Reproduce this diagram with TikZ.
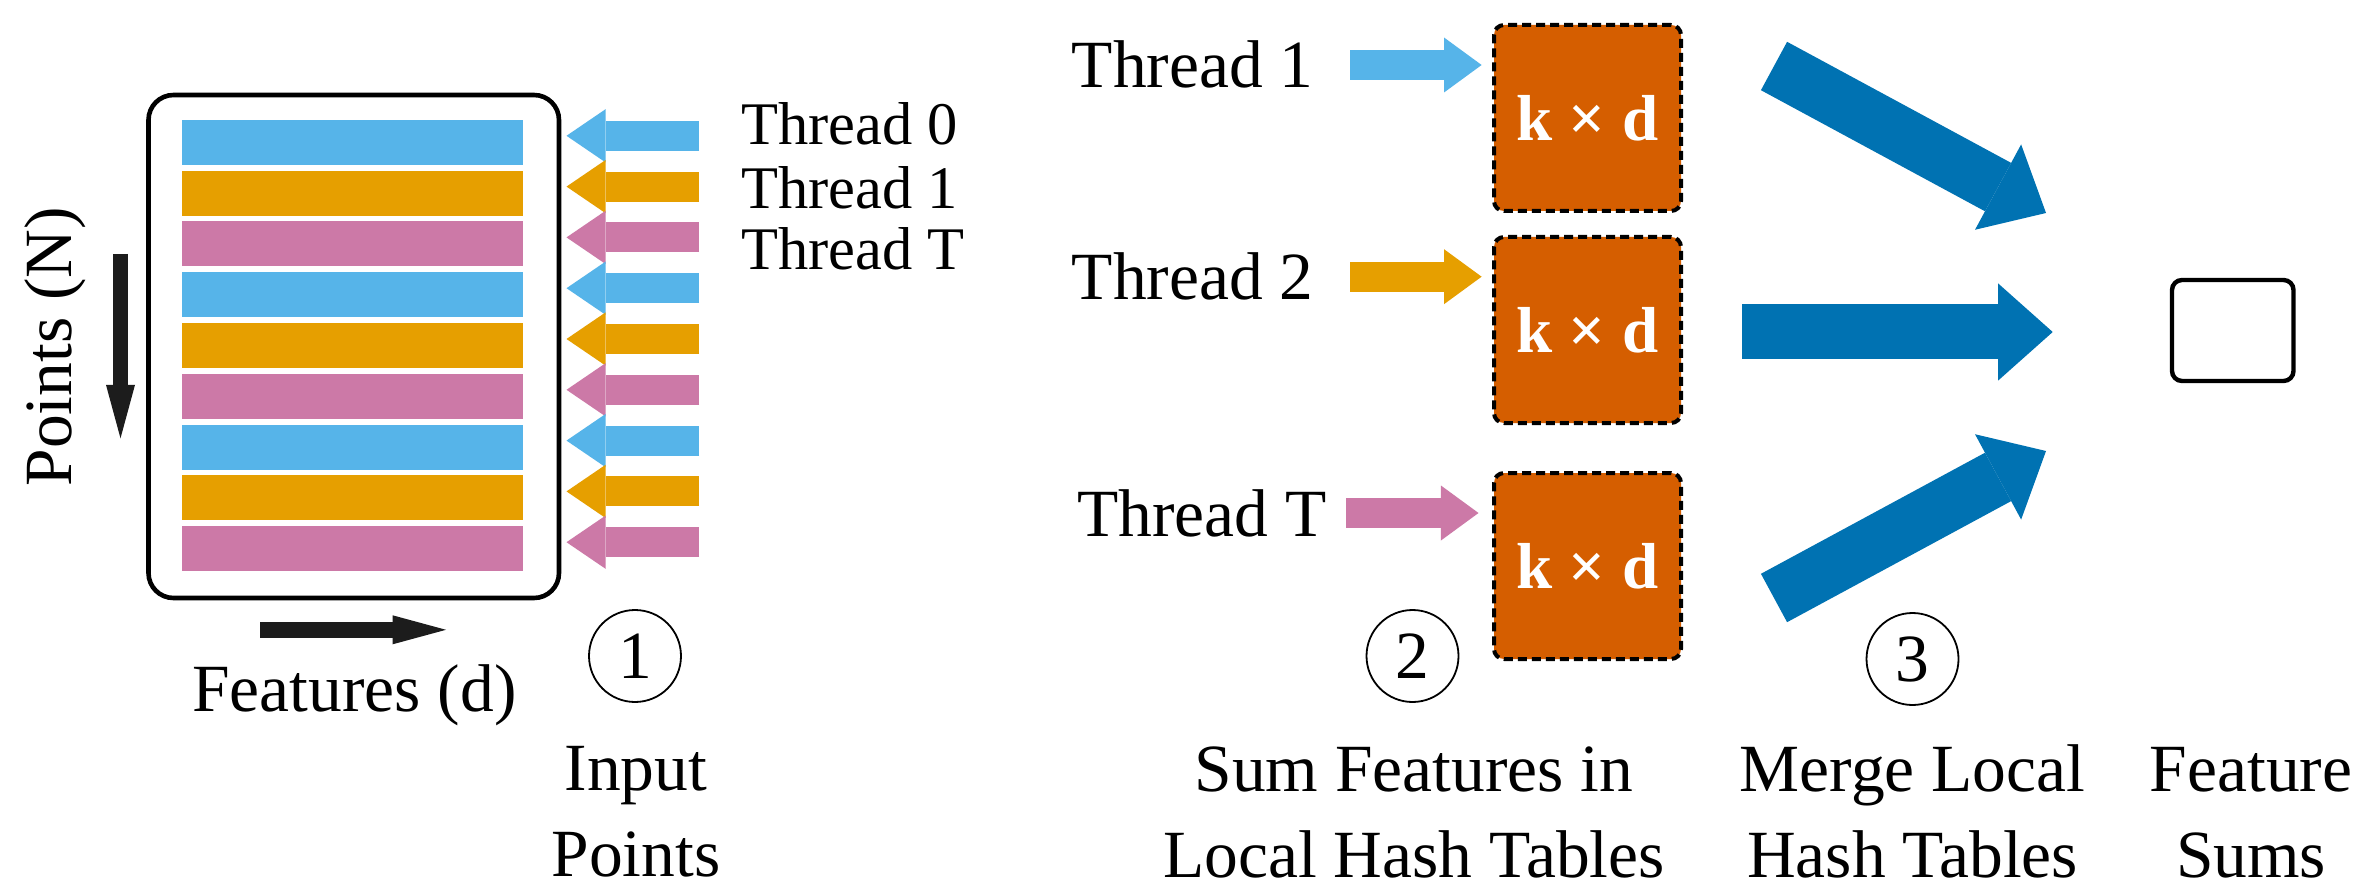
\documentclass[tikz,border=0pt]{standalone}
\usepackage{fontspec}
\setmainfont{Liberation Serif}
\usetikzlibrary{arrows.meta}
\definecolor{cblue}{HTML}{56B4E9}
\definecolor{corange}{HTML}{E69F00}
\definecolor{cpink}{HTML}{CC79A7}
\definecolor{cverm}{HTML}{D55E00}
\definecolor{cdblue}{HTML}{0072B2}
\definecolor{cblack}{HTML}{1C1C1C}
\begin{document}
\begin{tikzpicture}[x=0.5pt,y=-0.5pt,
  lbl/.style={inner sep=0pt, font=\fontsize{33.75}{43}\selectfont},
  smlbl/.style={inner sep=0pt, font=\fontsize{30.25}{36}\selectfont},
  bar/.style={fill=#1, draw=none, minimum width=170.5pt, minimum height=22.5pt, inner sep=0pt},
  hashbox/.style={fill=cverm, draw=black, line width=2pt, dash pattern=on 4.5pt off 2.5pt,
     rounded corners=5pt, minimum width=93.5pt, minimum height=93pt, inner sep=0pt,
     text=white, font=\fontsize{32.5}{36}\selectfont\bfseries},
  stepnum/.style={circle, draw=black, line width=0.9pt, minimum size=46pt, inner sep=0pt,
     font=\fontsize{33.75}{40}\selectfont},
  inarrow/.style={draw=#1, line width=15pt, -{Triangle[length=19.6pt,width=26.7pt,line width=0pt]}},
  tharrow/.style={draw=#1, line width=15pt, -{Triangle[length=18.8pt,width=27.5pt,line width=0pt]}},
  mergearrow/.style={draw=cdblue, line width=27.5pt, -{Triangle[length=27.25pt,width=48.5pt,line width=0pt]}},
  axarrow/.style={draw=cblack, line width=7.7pt, -{Triangle[length=26.7pt,width=14.5pt,line width=0pt]}},
]
\fill[white] (0,0) rectangle (2359,887);
\useasboundingbox (0,0) rectangle (2359,887);

% ---- Step 1: input points ----
\node[draw=black, line width=2.3pt, rounded corners=12.5pt, minimum width=205.25pt,
      minimum height=251.5pt, inner sep=0pt] (ptbox) at (353.75,346.5) {};
\foreach \i/\c in {0/cblue,1/corange,2/cpink,3/cblue,4/corange,5/cpink,6/cblue,7/corange,8/cpink}{
  \node[bar=\c] (bar\i) at (352.5,{142.5+50.75*\i}) {};
  \coordinate (intail\i) at (699.2,{135.8+50.8*\i});
  \coordinate (inhead\i) at (566.5,{135.8+50.8*\i});
  \draw[inarrow=\c] (intail\i) -- (inhead\i);
}
\node[smlbl, anchor=base west] (lt0) at (741,145) {Thread 0};
\node[smlbl, anchor=base west] (lt1) at (741,208.3) {Thread 1};
\node[smlbl, anchor=base west] (lt2) at (741,270) {Thread T};

\node[lbl, rotate=90, anchor=base] (ptsN) at (71.7,346.7) {Points (N)};
\coordinate (ndown0) at (120.5,254);
\coordinate (ndown1) at (120.5,438.3);
\draw[axarrow] (ndown0) -- (ndown1);
\coordinate (dright0) at (260,629.8);
\coordinate (dright1) at (446,629.8);
\draw[axarrow] (dright0) -- (dright1);
\node[lbl, anchor=base] (featd) at (354.5,711.7) {Features (d)};

\node[stepnum] (s1) at (635,656) {1};
\node[lbl, align=center, anchor=base] (l1) at (636,876) {Input\\Points};

% ---- Step 2: local hash tables ----
\node[hashbox] (hb1) at (1587.5,118) {k × d};
\node[hashbox] (hb2) at (1587.5,330) {k × d};
\node[hashbox] (hb3) at (1587.5,566) {k × d};

\node[lbl, anchor=base west] (rt1) at (1071.5,88) {Thread 1};
\node[lbl, anchor=base west] (rt2) at (1071.5,300) {Thread 2};
\node[lbl, anchor=base west] (rt3) at (1077,536.7) {Thread T};

\coordinate (ta1) at (1350,65);    \coordinate (tb1) at (1481.6,65);
\coordinate (ta2) at (1350,276.7); \coordinate (tb2) at (1481.6,276.7);
\coordinate (ta3) at (1346,513);   \coordinate (tb3) at (1478.5,513);
\draw[tharrow=cblue] (ta1) -- (tb1);
\draw[tharrow=corange] (ta2) -- (tb2);
\draw[tharrow=cpink] (ta3) -- (tb3);

\node[stepnum] (s2) at (1412.5,656) {2};
\node[lbl, align=center, anchor=base] (l2) at (1414,877) {Sum Features in\\Local Hash Tables};

% ---- Step 3: merge ----
\coordinate (ma1) at (1774,66);    \coordinate (mb1) at (2046,213);
\coordinate (ma2) at (1742,332);   \coordinate (mb2) at (2052.7,332);
\coordinate (ma3) at (1774,598);   \coordinate (mb3) at (2046,451);
\draw[mergearrow] (ma1) -- (mb1);
\draw[mergearrow] (ma2) -- (mb2);
\draw[mergearrow] (ma3) -- (mb3);

\node[stepnum] (s3) at (1912.5,659) {3};
\node[lbl, align=center, anchor=base] (l3) at (1912.5,877) {Merge Local\\Hash Tables};

% ---- Feature sums ----
\node[draw=black, line width=2.2pt, rounded corners=5pt, minimum width=60.75pt,
      minimum height=50.5pt, inner sep=0pt] (fsum) at (2232.75,330.5) {};
\node[lbl, align=center, anchor=base] (l4) at (2251,877) {Feature\\Sums};
\end{tikzpicture}
\end{document}
